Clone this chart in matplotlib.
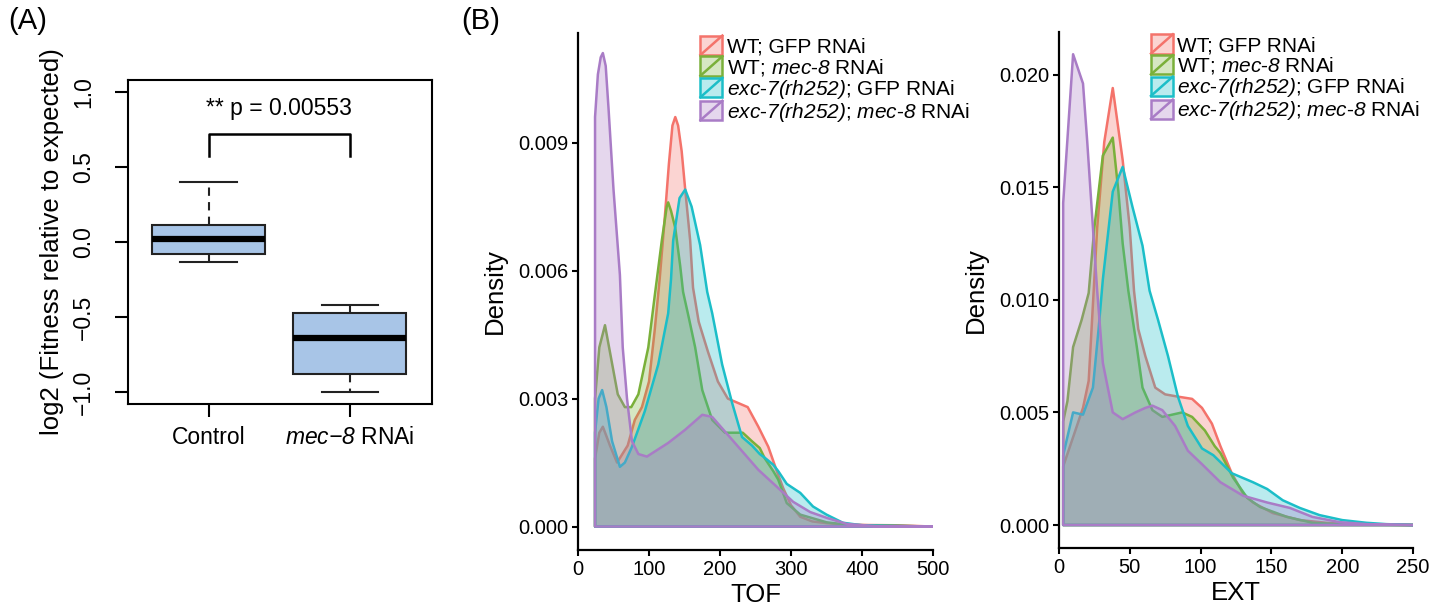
import numpy as np
import matplotlib
matplotlib.use("Agg")
import matplotlib.pyplot as plt
from matplotlib.patches import Rectangle
from matplotlib.lines import Line2D
from matplotlib.legend_handler import HandlerBase
from matplotlib.colors import to_rgba

# everything inside $...$ is set in italic (gene / allele names)
plt.rcParams.update({
    "font.family": "Liberation Sans",
    "mathtext.fontset": "custom",
    "mathtext.rm": "Liberation Sans:italic",
    "mathtext.it": "Liberation Sans:italic",
    "mathtext.sf": "Liberation Sans:italic",
})

# ---- panel A: box plot stats ----
box_labels = ["Control", r"$mec{-}8$ RNAi"]
box_whislo = [-0.133, -0.998]
box_q1 = [-0.082, -0.880]
box_med = [0.022, -0.638]
box_q3 = [0.113, -0.471]
box_whishi = [0.398, -0.422]
p_text = "** p = 0.00553"

# ---- panel B: density curves ----
group_labels = [
    "WT; GFP RNAi",
    r"WT; $mec$-$8$ RNAi",
    r"$exc$-$7(rh252)$; GFP RNAi",
    r"$exc$-$7(rh252)$; $mec$-$8$ RNAi",
]
colors = ["#F4736B", "#7AB03A", "#1CBEC8", "#A97CC6"]

tof_wt_gfp_x = [24, 30, 35, 45, 55, 70, 80, 90, 100, 108, 115, 122, 128, 133, 137, 141, 146, 151, 158, 162,
                170, 183, 197, 211, 225, 239, 254, 268, 280, 289, 300, 313, 330, 350, 380, 450, 500]
tof_wt_gfp_y = [0.0016, 0.0022, 0.00234, 0.0019, 0.0015, 0.0019, 0.0025, 0.0028, 0.0034, 0.0046, 0.0058,
                0.0072, 0.0085, 0.0094, 0.0096, 0.0094, 0.0088, 0.0079, 0.0067, 0.0056, 0.0048, 0.0041,
                0.0034, 0.0030, 0.0029, 0.0028, 0.00234, 0.00187, 0.0013, 0.0009, 0.0005, 0.00023,
                0.00012, 0.00008, 0.00004, 0.00003, 0.0]
tof_wt_mec_x = [24, 30, 38, 46, 56, 66, 75, 85, 99, 108, 118, 125, 127, 131, 137, 144, 148, 156, 165, 175,
                189, 207, 220, 232, 245, 256, 263, 275, 282, 294, 313, 350, 380, 500]
tof_wt_mec_y = [0.0030, 0.0042, 0.00472, 0.0040, 0.0031, 0.0028, 0.0028, 0.0031, 0.0042, 0.0054, 0.0067,
                0.0075, 0.0076, 0.0074, 0.0070, 0.0061, 0.0055, 0.0049, 0.0042, 0.0032, 0.0025, 0.0022,
                0.0022, 0.0022, 0.0020, 0.00184, 0.0016, 0.0013, 0.0011, 0.00055, 0.00028, 0.0001,
                0.00004, 0.0]
tof_exc_gfp_x = [24, 29, 34, 40, 48, 59, 66, 76, 94, 113, 127, 131, 134, 143, 151, 160, 172, 182, 189, 203,
                 217, 231, 245, 256, 264, 275, 282, 294, 313, 331, 350, 373, 400, 500]
tof_exc_gfp_y = [0.0022, 0.0030, 0.0032, 0.0028, 0.0020, 0.0014, 0.0015, 0.00187, 0.0027, 0.0038, 0.0050,
                 0.0058, 0.0067, 0.0077, 0.0079, 0.0075, 0.0066, 0.0055, 0.0050, 0.0038, 0.0029, 0.0021,
                 0.0019, 0.0017, 0.0016, 0.00145, 0.0013, 0.0010, 0.00079, 0.00047, 0.00028, 0.00009,
                 0.00003, 0.0]
tof_exc_mec_x = [24, 28, 32, 35, 39, 43, 50, 59, 63, 69, 76, 85, 97, 127, 151, 175, 189, 221, 254, 292,
                 303, 327, 351, 379, 420, 500]
tof_exc_mec_y = [0.0096, 0.0106, 0.0110, 0.0111, 0.0108, 0.0098, 0.0079, 0.0059, 0.0042, 0.0030, 0.0020,
                 0.0017, 0.00164, 0.00196, 0.00227, 0.00262, 0.00257, 0.00196, 0.00133, 0.00075,
                 0.00058, 0.00034, 0.0002, 0.00006, 0.00001, 0.0]

ext_wt_gfp_x = [3, 17, 21, 27, 32, 38, 45, 50, 53, 56, 61, 68, 75, 84, 94, 101, 108, 114, 122, 130, 137,
                151, 170, 189, 210, 250]
ext_wt_gfp_y = [0.0026, 0.0052, 0.0064, 0.0132, 0.0170, 0.0194, 0.0162, 0.0132, 0.0104, 0.0087, 0.0075,
                0.0061, 0.0058, 0.0057, 0.0056, 0.0052, 0.0045, 0.0035, 0.0023, 0.0014, 0.0010, 0.00053,
                0.00022, 0.0001, 0.00003, 0.0]
ext_wt_mec_x = [3, 6, 10, 16, 21, 25, 31, 38, 42, 45, 49, 55, 59, 66, 73, 80, 87, 94, 103, 110, 114, 123,
                133, 142, 161, 179, 200, 250]
ext_wt_mec_y = [0.0046, 0.0055, 0.0079, 0.0091, 0.0103, 0.0132, 0.0164, 0.0172, 0.0148, 0.0125, 0.0104,
                0.0079, 0.0061, 0.0051, 0.0048, 0.0049, 0.0050, 0.0048, 0.0042, 0.0035, 0.0032, 0.0021,
                0.0012, 0.0008, 0.00036, 0.0001, 0.00003, 0.0]
ext_exc_gfp_x = [3, 10, 17, 24, 28, 31, 38, 45, 52, 59, 64, 70, 77, 84, 91, 101, 109, 122, 137, 147, 158,
                 170, 184, 200, 217, 231, 250]
ext_exc_gfp_y = [0.0031, 0.0050, 0.0049, 0.0061, 0.0087, 0.0109, 0.0148, 0.0159, 0.0141, 0.0124, 0.0104,
                 0.0091, 0.0075, 0.0057, 0.0044, 0.0034, 0.0031, 0.0023, 0.0019, 0.0016, 0.0011, 0.00076,
                 0.00044, 0.00022, 0.0001, 0.00004, 0.0]
ext_exc_mec_x = [3, 10, 17, 20, 24, 27, 31, 38, 45, 54, 61, 66, 73, 82, 91, 101, 114, 130, 147, 163, 179,
                 198, 217, 250]
ext_exc_mec_y = [0.0143, 0.0209, 0.0196, 0.0170, 0.0132, 0.0104, 0.0072, 0.0050, 0.0047, 0.0050, 0.0052,
                 0.0053, 0.0051, 0.0044, 0.0033, 0.0027, 0.0019, 0.0013, 0.0010, 0.00076, 0.00036,
                 0.00013, 0.00004, 0.0]

tof_curves = [(tof_wt_gfp_x, tof_wt_gfp_y), (tof_wt_mec_x, tof_wt_mec_y),
              (tof_exc_gfp_x, tof_exc_gfp_y), (tof_exc_mec_x, tof_exc_mec_y)]
ext_curves = [(ext_wt_gfp_x, ext_wt_gfp_y), (ext_wt_mec_x, ext_wt_mec_y),
              (ext_exc_gfp_x, ext_exc_gfp_y), (ext_exc_mec_x, ext_exc_mec_y)]

fill_alpha = 0.3


class DiagKeyHandler(HandlerBase):
    # ggplot style key: filled square with a diagonal stroke
    def create_artists(self, legend, orig_handle, xdescent, ydescent, width, height, fontsize, trans):
        col = orig_handle.get_color()
        x0, y0 = -xdescent, -ydescent
        rect = Rectangle((x0, y0), width, height, facecolor=to_rgba(col, fill_alpha),
                         edgecolor=col, linewidth=1.8, transform=trans)
        diag = Line2D([x0, x0 + width], [y0, y0 + height], color=col, linewidth=1.8, transform=trans)
        return [rect, diag]


fig = plt.figure(figsize=(14.49, 6.11), dpi=100)

# ---------------- panel A ----------------
axA = fig.add_axes([0.0883, 0.3388, 0.2098, 0.5302])
stats = []
for i in range(len(box_labels)):
    stats.append(dict(med=box_med[i], q1=box_q1[i], q3=box_q3[i],
                      whislo=box_whislo[i], whishi=box_whishi[i], fliers=[]))
axA.bxp(stats, positions=[1, 2], widths=0.8, patch_artist=True, capwidths=0.4,
        boxprops=dict(facecolor="#A8C5E7", edgecolor="#222222", linewidth=1.5),
        medianprops=dict(color="black", linewidth=4.5, solid_capstyle="butt"),
        whiskerprops=dict(color="#222222", linewidth=1.5, linestyle=(0, (4, 3))),
        capprops=dict(color="#222222", linewidth=1.5))
axA.set_xlim(0.43, 2.58)
axA.set_ylim(-1.08, 1.08)
axA.set_yticks([-1.0, -0.5, 0.0, 0.5, 1.0])
axA.set_yticklabels(["\u22121.0", "\u22120.5", "0.0", "0.5", "1.0"], rotation=90, va="center")
axA.set_xticks([1, 2])
axA.set_xticklabels(box_labels)
axA.tick_params(axis="both", labelsize=16.5, length=9.5, width=1.5, direction="out")
axA.tick_params(axis="y", pad=14)
axA.tick_params(axis="x", pad=6)
for s in axA.spines.values():
    s.set_linewidth(1.5)
axA.set_ylabel("log2 (Fitness relative to expected)", fontsize=18.5)
axA.yaxis.set_label_coords(-0.21, 0.5)

# significance bracket
br_y, br_low = 0.722, 0.573
axA.plot([1, 1, 2, 2], [br_low, br_y, br_y, br_low], color="black", linewidth=1.8)
axA.text(1.5, 0.893, p_text, ha="center", va="center", fontsize=16.5)

fig.text(0.006, 0.966, "(A)", fontsize=21, va="center", ha="left")
fig.text(0.318, 0.966, "(B)", fontsize=21, va="center", ha="left")

# ---------------- panel B ----------------
def density_panel(rect, curves, xlim, ylim, yticks, ytick_labels, xticks, xlabel, leg_x):
    ax = fig.add_axes(rect)
    handles = []
    for (xs, ys), col, lab in zip(curves, colors, group_labels):
        px = [xs[0]] + list(xs) + [xs[-1]]
        py = [0.0] + list(ys) + [0.0]
        ax.fill(px, py, facecolor=to_rgba(col, fill_alpha), edgecolor=col, linewidth=1.8,
                joinstyle="round")
        handles.append(Line2D([], [], color=col, label=lab))
    ax.set_xlim(*xlim)
    ax.set_ylim(*ylim)
    ax.set_xticks(xticks)
    ax.set_yticks(yticks)
    ax.set_yticklabels(ytick_labels)
    ax.spines["top"].set_visible(False)
    ax.spines["right"].set_visible(False)
    ax.spines["left"].set_linewidth(1.6)
    ax.spines["bottom"].set_linewidth(1.6)
    ax.tick_params(axis="both", labelsize=14.5, length=4, width=1.5, pad=3)
    ax.set_xlabel(xlabel, fontsize=18.5, labelpad=3)
    ax.set_ylabel("Density", fontsize=18.5, labelpad=8)
    ax.legend(handles=handles, handler_map={Line2D: DiagKeyHandler()}, loc="upper left",
              bbox_to_anchor=(leg_x, 0.995), frameon=False, fontsize=15, borderpad=0,
              borderaxespad=0, handlelength=1.05, handleheight=1.05, handletextpad=0.2,
              labelspacing=0.0)
    return ax


axT = density_panel([0.3989, 0.0998, 0.245, 0.8462], tof_curves, (0, 500), (-0.00055, 0.01157),
                    [0.0, 0.003, 0.006, 0.009], ["0.000", "0.003", "0.006", "0.009"],
                    [0, 100, 200, 300, 400, 500], "TOF", 0.345)
axE = density_panel([0.7308, 0.1031, 0.2444, 0.8450], ext_curves, (0, 250), (-0.00102, 0.0219),
                    [0.0, 0.005, 0.010, 0.015, 0.020], ["0.000", "0.005", "0.010", "0.015", "0.020"],
                    [0, 50, 100, 150, 200, 250], "EXT", 0.26)

fig.savefig("out.png", dpi=100)
